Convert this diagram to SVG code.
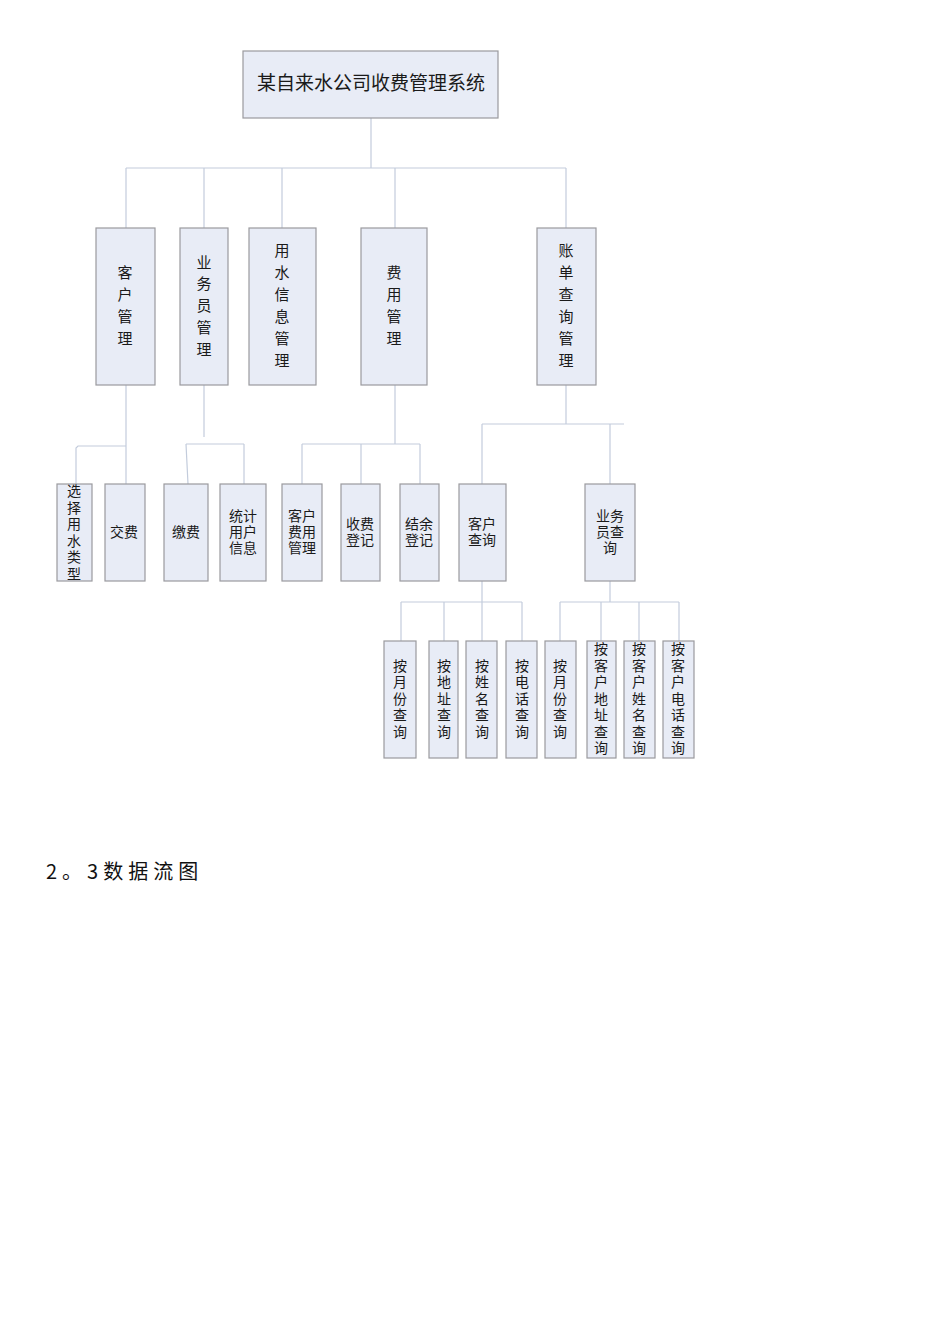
<svg xmlns="http://www.w3.org/2000/svg" width="950" height="1344" viewBox="0 0 950 1344">
<style>
.box{fill:#E8ECF6;stroke:#9A9A9E;stroke-width:1.2}
.ln{stroke:#C3CCDC;stroke-width:1.2;fill:none}
.t{font-family:"Liberation Sans","Noto Sans CJK SC",sans-serif;fill:#1a1a1a;text-anchor:middle}
.t16{font-size:15px}
.t14{font-size:14px}
</style>
<rect width="950" height="1344" fill="#fff"/>
<g id="connectors">
<path class="ln" d="M371,118 V168 M126,168 H566 M126,168 V228 M204,168 V228 M282,168 V228 M395,168 V228 M566,168 V228"/>
<path class="ln" d="M126,385 V446 H78 L76,448 V484 M126,446 V484"/>
<path class="ln" d="M204,385 V437 M186,444 H244 M186,444 L188,484 M244,444 V484"/>
<path class="ln" d="M395,385 V444 M302,444 H420 M302,444 V484 M361,444 V484 M420,444 V484"/>
<path class="ln" d="M566,385 V424 M482,424 H624 M482,424 V484 M610,424 V484"/>
<path class="ln" d="M482,581 V602 M401,602 H522 M401,602 V641 M444,602 V641 M482,602 V641 M522,602 V641"/>
<path class="ln" d="M610,581 V602 M560,602 H679 M560,602 V641 M601,602 V641 M639,602 V641 M679,602 V641"/>
</g>
<g id="root"><rect class="box" x="243" y="51" width="255" height="67"/><text class="t" x="371" y="90" font-size="19">某自来水公司收费管理系统</text></g>
<g id="n-kehu"><rect class="box" x="96" y="228" width="59" height="157"/><text class="t t16"><tspan x="125" y="278">客</tspan><tspan x="125" y="300">户</tspan><tspan x="125" y="322">管</tspan><tspan x="125" y="344">理</tspan></text></g>
<g id="n-yewuyuan"><rect class="box" x="180" y="228" width="48" height="157"/><text class="t t16"><tspan x="204" y="268">业</tspan><tspan x="204" y="289">务</tspan><tspan x="204" y="311">员</tspan><tspan x="204" y="333">管</tspan><tspan x="204" y="355">理</tspan></text></g>
<g id="n-yongshui"><rect class="box" x="249" y="228" width="67" height="157"/><text class="t t16"><tspan x="282" y="256">用</tspan><tspan x="282" y="278">水</tspan><tspan x="282" y="300">信</tspan><tspan x="282" y="322">息</tspan><tspan x="282" y="344">管</tspan><tspan x="282" y="366">理</tspan></text></g>
<g id="n-feiyong"><rect class="box" x="361" y="228" width="66" height="157"/><text class="t t16"><tspan x="394" y="278">费</tspan><tspan x="394" y="300">用</tspan><tspan x="394" y="322">管</tspan><tspan x="394" y="344">理</tspan></text></g>
<g id="n-zhangdan"><rect class="box" x="537" y="228" width="59" height="157"/><text class="t t16"><tspan x="566" y="256">账</tspan><tspan x="566" y="278">单</tspan><tspan x="566" y="300">查</tspan><tspan x="566" y="322">询</tspan><tspan x="566" y="344">管</tspan><tspan x="566" y="366">理</tspan></text></g>
<g id="n-xuanze"><rect class="box" x="57" y="484" width="35" height="97"/><text class="t t14"><tspan x="74" y="496">选</tspan><tspan x="74" y="513">择</tspan><tspan x="74" y="529">用</tspan><tspan x="74" y="546">水</tspan><tspan x="74" y="562">类</tspan><tspan x="74" y="579">型</tspan></text></g>
<g id="n-jiaofei"><rect class="box" x="105" y="484" width="40" height="97"/><text class="t t14" x="124" y="537">交费</text></g>
<g id="n-jiaofei2"><rect class="box" x="164" y="484" width="44" height="97"/><text class="t t14" x="186" y="537">缴费</text></g>
<g id="n-tongji"><rect class="box" x="220" y="484" width="46" height="97"/><text class="t t14"><tspan x="243" y="521">统计</tspan><tspan x="243" y="537">用户</tspan><tspan x="243" y="553">信息</tspan></text></g>
<g id="n-khfy"><rect class="box" x="282" y="484" width="40" height="97"/><text class="t t14"><tspan x="302" y="521">客户</tspan><tspan x="302" y="537">费用</tspan><tspan x="302" y="553">管理</tspan></text></g>
<g id="n-shoufei"><rect class="box" x="341" y="484" width="39" height="97"/><text class="t t14"><tspan x="360" y="529">收费</tspan><tspan x="360" y="545">登记</tspan></text></g>
<g id="n-jieyu"><rect class="box" x="400" y="484" width="39" height="97"/><text class="t t14"><tspan x="419" y="529">结余</tspan><tspan x="419" y="545">登记</tspan></text></g>
<g id="n-khcx"><rect class="box" x="459" y="484" width="47" height="97"/><text class="t t14"><tspan x="482" y="529">客户</tspan><tspan x="482" y="545">查询</tspan></text></g>
<g id="n-ywycx"><rect class="box" x="585" y="484" width="50" height="97"/><text class="t t14"><tspan x="610" y="521">业务</tspan><tspan x="610" y="537">员查</tspan><tspan x="610" y="553">询</tspan></text></g>
<g id="q1"><rect class="box" x="384" y="641" width="32" height="117"/><text class="t t14"><tspan x="400" y="671">按</tspan><tspan x="400" y="687">月</tspan><tspan x="400" y="704">份</tspan><tspan x="400" y="720">查</tspan><tspan x="400" y="737">询</tspan></text></g>
<g id="q2"><rect class="box" x="429" y="641" width="29" height="117"/><text class="t t14"><tspan x="444" y="671">按</tspan><tspan x="444" y="687">地</tspan><tspan x="444" y="704">址</tspan><tspan x="444" y="720">查</tspan><tspan x="444" y="737">询</tspan></text></g>
<g id="q3"><rect class="box" x="466" y="641" width="31" height="117"/><text class="t t14"><tspan x="482" y="671">按</tspan><tspan x="482" y="687">姓</tspan><tspan x="482" y="704">名</tspan><tspan x="482" y="720">查</tspan><tspan x="482" y="737">询</tspan></text></g>
<g id="q4"><rect class="box" x="506" y="641" width="31" height="117"/><text class="t t14"><tspan x="522" y="671">按</tspan><tspan x="522" y="687">电</tspan><tspan x="522" y="704">话</tspan><tspan x="522" y="720">查</tspan><tspan x="522" y="737">询</tspan></text></g>
<g id="q5"><rect class="box" x="545" y="641" width="31" height="117"/><text class="t t14"><tspan x="560" y="671">按</tspan><tspan x="560" y="687">月</tspan><tspan x="560" y="704">份</tspan><tspan x="560" y="720">查</tspan><tspan x="560" y="737">询</tspan></text></g>
<g id="q6"><rect class="box" x="587" y="641" width="29" height="117"/><text class="t t14"><tspan x="601" y="654">按</tspan><tspan x="601" y="671">客</tspan><tspan x="601" y="687">户</tspan><tspan x="601" y="704">地</tspan><tspan x="601" y="720">址</tspan><tspan x="601" y="737">查</tspan><tspan x="601" y="753">询</tspan></text></g>
<g id="q7"><rect class="box" x="624" y="641" width="31" height="117"/><text class="t t14"><tspan x="639" y="654">按</tspan><tspan x="639" y="671">客</tspan><tspan x="639" y="687">户</tspan><tspan x="639" y="704">姓</tspan><tspan x="639" y="720">名</tspan><tspan x="639" y="737">查</tspan><tspan x="639" y="753">询</tspan></text></g>
<g id="q8"><rect class="box" x="663" y="641" width="31" height="117"/><text class="t t14"><tspan x="678" y="654">按</tspan><tspan x="678" y="671">客</tspan><tspan x="678" y="687">户</tspan><tspan x="678" y="704">电</tspan><tspan x="678" y="720">话</tspan><tspan x="678" y="737">查</tspan><tspan x="678" y="753">询</tspan></text></g>
<text x="46" y="879" font-family="'Noto Sans CJK SC',sans-serif" font-size="20" letter-spacing="5" fill="#111">2。3数据流图</text>
</svg>
